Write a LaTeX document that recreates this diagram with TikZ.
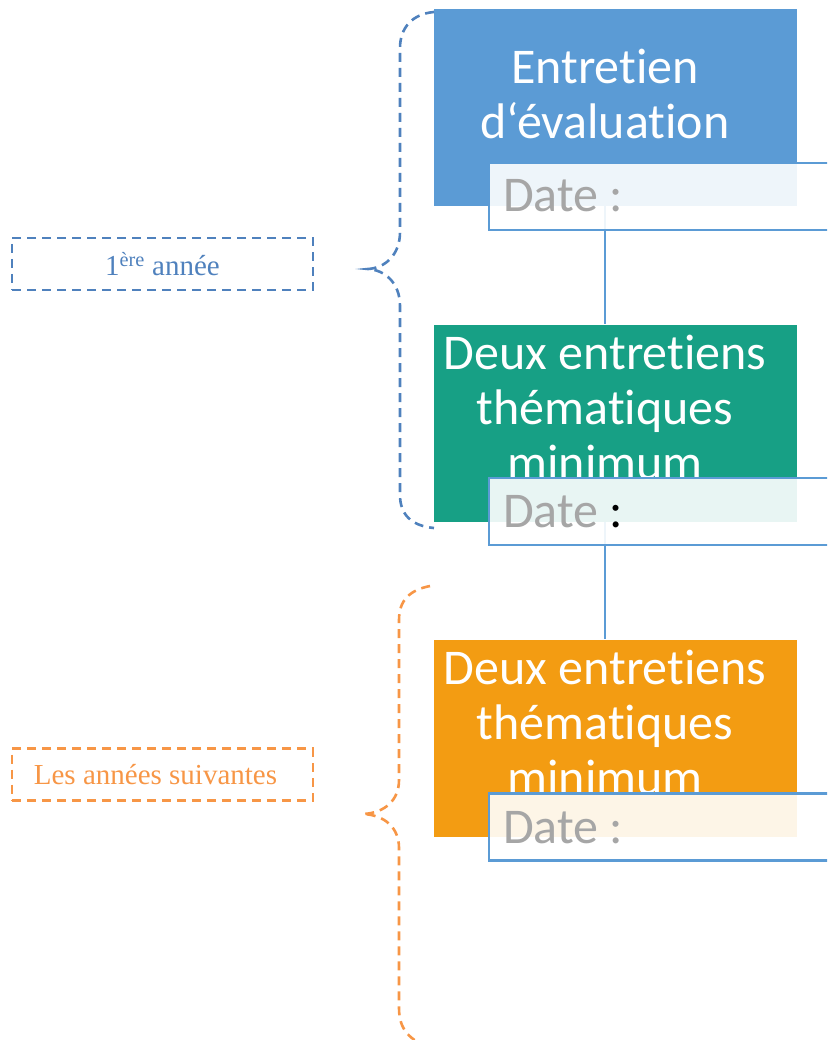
\documentclass[tikz,border=0pt]{standalone}
\usepackage{fontspec}
\setmainfont{Liberation Serif}
\newfontfamily\boxfont[Ligatures=NoCommon]{Carlito}
\usetikzlibrary{calc}

\definecolor{evalblue}{RGB}{91,155,213}
\definecolor{themegreen}{RGB}{23,160,133}
\definecolor{themeorange}{RGB}{243,156,18}
\definecolor{braceblue}{RGB}{79,129,189}
\definecolor{braceorange}{RGB}{247,150,70}
\definecolor{dategray}{RGB}{166,166,166}

\tikzset{
  stepbox/.style={rectangle, inner sep=0pt, minimum width=363pt, minimum height=197pt},
  steptext/.style={inner sep=0pt, align=center, text=white, font=\boxfont\fontsize{50}{55}\selectfont},
  datebox/.style={rectangle, draw=evalblue, line width=2.6pt, fill=white, fill opacity=0.9, draw opacity=1, minimum width=371pt, minimum height=67pt},
  datetext/.style={inner sep=0pt, anchor=base west, text=dategray, font=\boxfont\fontsize{50}{55}\selectfont},
  link/.style={draw=evalblue, line width=2.6pt},
  bracket/.style={dash pattern=on 9pt off 6pt, line width=2.6pt},
  yearbox/.style={rectangle, dash pattern=on 9pt off 6pt, line width=2.6pt, minimum width=301pt, minimum height=52pt, inner sep=0pt, font=\fontsize{29}{33}\selectfont}
}

\begin{document}
\begin{tikzpicture}[x=1pt,y=-1pt]
		%%%%% START %%%%%
		\clip (0,0) rectangle (827,1040);
		
		% main boxes
		\node[stepbox, fill=evalblue] (eval) at (615.5,107.5) {};
		\node[stepbox, fill=themegreen] (themea) at (615.5,423) {};
		\node[stepbox, fill=themeorange] (themeb) at (615.5,738) {};
		
		\node[steptext] (evaltxt) at (605,94) {Entretien\\d\textquoteleft évaluation};
		\node[steptext] (themeatxt) at (605,407) {Deux entretiens\\thématiques\\minimum};
		\node[steptext] (themebtxt) at (605,722) {Deux entretiens\\thématiques\\minimum};
		
		% connectors
		\draw[link] (eval.south -| evaltxt) -- (themea.north -| evaltxt);
		\draw[link] (themea.south -| evaltxt) -- (themeb.north -| evaltxt);
		
		% date boxes
		\node[datebox] (evaldate) at (674.5,196.5) {};
		\node[datebox] (themeadate) at (674.5,511.5) {};
		\node[datebox] (themebdate) at (674.5,827) {};
		
		\node[datetext] (evaldatetxt) at (503,212) {Date :};
		\node[datetext] (themeadatetxt) at (503,527) {Date \textcolor{black}{:}};
		\node[datetext] (themebdatetxt) at (503,843) {Date :};
		
		% year labels
		\node[yearbox, draw=braceblue, text=braceblue] (firstyear) at (162.5,264) {1\textsuperscript{ère} année};
		\node[yearbox, draw=braceorange, text=braceorange] (nextyears) at (162.5,774.5) {Les années suivantes\kern14pt};
		
		% braces
		\draw[bracket, braceblue] (434,12) .. controls (412,14) and (400,28) .. (400,48) -- (400,232)
			.. controls (400,255) and (385,268) .. (368,269)
			.. controls (385,270) and (400,283) .. (400,306) -- (400,495)
			.. controls (400,515) and (412,526) .. (434,528);
		\draw[bracket, braceorange] (430,586) .. controls (410,590) and (399,600) .. (399,620) -- (399,780)
			.. controls (399,800) and (385,813) .. (363,814)
			.. controls (385,815) and (399,828) .. (399,848) -- (399,1008)
			.. controls (399,1030) and (410,1040) .. (430,1048);
		
		%%%%% END %%%%%
	\end{tikzpicture}
\end{document}
